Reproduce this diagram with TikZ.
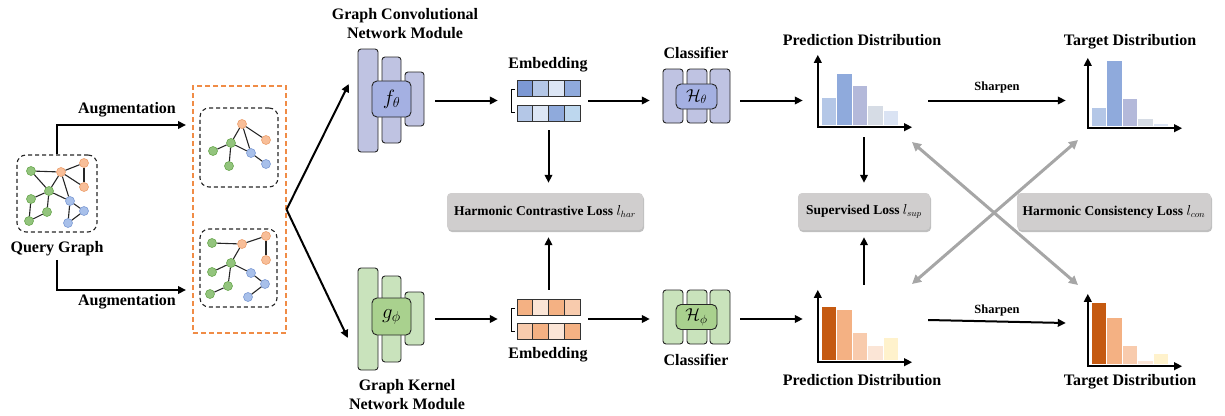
\documentclass[tikz,border=0pt]{standalone}
\usepackage{fontspec}
\setmainfont{Liberation Serif}
\usetikzlibrary{arrows.meta,shadows,positioning}

\definecolor{gfill}{RGB}{147,196,125}
\definecolor{gline}{RGB}{106,168,79}
\definecolor{ofill}{RGB}{248,190,152}
\definecolor{oline}{RGB}{236,160,110}
\definecolor{bfill}{RGB}{168,192,234}
\definecolor{bline}{RGB}{125,155,212}
\definecolor{augorange}{RGB}{240,140,70}
\definecolor{gcnlight}{RGB}{191,195,226}
\definecolor{gcncore}{RGB}{164,176,226}
\definecolor{gknlight}{RGB}{201,227,188}
\definecolor{gkncore}{RGB}{169,209,142}
\definecolor{lossgray}{RGB}{208,206,206}
\definecolor{xgray}{RGB}{166,166,166}
\definecolor{bl0}{HTML}{7C98D4}
\definecolor{bl1}{HTML}{B4C7E7}
\definecolor{bl2}{HTML}{8FAADC}
\definecolor{bl3}{HTML}{B4B9DA}
\definecolor{bl4}{HTML}{D6DCE5}
\definecolor{bl5}{HTML}{DAE3F3}
\definecolor{bl6}{HTML}{DCE6F5}
\definecolor{bl7}{HTML}{BDD7EE}
\definecolor{or1}{HTML}{C55A11}
\definecolor{or2}{HTML}{F4B183}
\definecolor{or3}{HTML}{F8CBAD}
\definecolor{or4}{HTML}{FBE5D6}
\definecolor{or5}{HTML}{FFF2CC}

\begin{document}
\begin{tikzpicture}[x=1pt,y=-1pt,
    every node/.style={font=\fontsize{16}{19}\selectfont\bfseries},
    arr/.style={line width=2pt,-{Triangle[length=8pt,width=7.5pt]}},
    chartaxis/.style={line width=2.4pt,{Triangle[length=8pt,width=7.5pt]}-{Triangle[length=8pt,width=7.5pt]}},
    xarr/.style={line width=3pt,xgray,{Triangle[length=9pt,width=9pt]}-{Triangle[length=9pt,width=9pt]}},
    gframe/.style={draw=black!85,line width=1.1pt,dash pattern=on 4pt off 3pt,rounded corners=9pt,inner sep=0pt},
    augframe/.style={draw=augorange,line width=1.1pt,dash pattern=on 5pt off 3pt,inner sep=0pt},
    gv/.style={circle,inner sep=0pt,minimum size=9pt,line width=0.6pt},
    gg/.style={gv,draw=gline,fill=gfill},
    go/.style={gv,draw=oline,fill=ofill},
    gb/.style={gv,draw=bline,fill=bfill},
    gedge/.style={line width=1.1pt,black!85},
    slab/.style={draw=black!85,line width=0.9pt,rounded corners=3pt},
    core/.style={draw=black!85,line width=0.9pt,rounded corners=5pt,inner sep=0pt},
    cell/.style={draw=black!80,line width=0.8pt},
    brk/.style={line width=1pt},
    hold/.style={inner sep=0pt},
    loss/.style={rounded corners=4pt,fill=lossgray,minimum height=37pt,inner sep=0pt,
      font=\fontsize{13.5}{16}\selectfont\bfseries,
      drop shadow={shadow xshift=1pt,shadow yshift=-2pt,fill=black,opacity=.25}},
    sharp/.style={font=\fontsize{12.5}{15}\selectfont\bfseries}]
  \useasboundingbox (0,0) rectangle (1225,415);

  % query graph
  \node[gframe,minimum width=80pt,minimum height=77pt] (qg) at (57,193.5) {};
  \node[gg] (q1) at (31,171) {};
  \node[gg] (q2) at (49,191) {};
  \node[gg] (q3) at (31,199) {};
  \node[gg] (q4) at (47,212) {};
  \node[gg] (q5) at (29,221) {};
  \node[go] (q6) at (61,172) {};
  \node[go] (q7) at (84,163) {};
  \node[go] (q8) at (84,187) {};
  \node[gb] (q9) at (70,201) {};
  \node[gb] (q10) at (84,211) {};
  \node[gb] (q11) at (68,223) {};
  \foreach \u/\v in {q1/q6,q1/q2,q6/q2,q6/q7,q7/q8,q6/q8,q6/q9,q2/q3,q3/q5,q5/q4,q4/q2,q2/q9,q9/q10,q10/q11,q9/q11}
    \draw[gedge] (\u) -- (\v);
  \node (qlab) at (57,249) {Query Graph};

  % augmentation
  \coordinate (augin1) at (186,125);
  \coordinate (augin2) at (186,290);
  \draw[arr] (qg.north) |- (augin1);
  \draw[arr] (qlab.south) |- (augin2);
  \node (auglab1) at (127,110) {Augmentation};
  \node (auglab2) at (127,302) {Augmentation};

  \node[augframe,minimum width=93pt,minimum height=247pt] (augbox) at (239.5,209.5) {};
  \node[gframe,minimum width=78pt,minimum height=79pt] (ag1) at (239,147.5) {};
  \node[go] (u1) at (242,124) {};
  \node[go] (u2) at (266,140) {};
  \node[gg] (u3) at (231,143) {};
  \node[gg] (u4) at (213,151) {};
  \node[gg] (u5) at (229,166) {};
  \node[gb] (u6) at (251,153) {};
  \node[gb] (u7) at (266,164) {};
  \foreach \u/\v in {u1/u3,u1/u2,u1/u6,u3/u4,u3/u5,u3/u6,u6/u7}
    \draw[gedge] (\u) -- (\v);

  \node[gframe,minimum width=77pt,minimum height=78pt] (ag2) at (238.5,268) {};
  \node[gg] (v1) at (212,243) {};
  \node[go] (v2) at (242,244) {};
  \node[go] (v3) at (266,236) {};
  \node[go] (v4) at (266,260) {};
  \node[gg] (v5) at (231,263) {};
  \node[gg] (v6) at (212,272) {};
  \node[gb] (v7) at (251,273) {};
  \node[gb] (v8) at (265,284) {};
  \node[gg] (v9) at (228,286) {};
  \node[gg] (v10) at (210,294) {};
  \node[gb] (v11) at (248,297) {};
  \foreach \u/\v in {v1/v2,v2/v3,v3/v4,v2/v5,v5/v6,v5/v7,v5/v9,v9/v10,v7/v8,v8/v11}
    \draw[gedge] (\u) -- (\v);

  % encoders
  \node[hold,minimum width=66pt,minimum height=103pt] (gcn) at (391,100.5) {};
  \draw[slab,fill=gcnlight] (358,49) rectangle (378,152);
  \draw[slab,fill=gcnlight] (382,57) rectangle (401,143);
  \draw[slab,fill=gcnlight] (405,72) rectangle (424,126);
  \node[core,fill=gcncore,minimum width=39pt,minimum height=36pt] (fmod) at (391.5,99) {\fontsize{20}{22}\selectfont$f_\theta$};
  \node[align=center] (gcnlab) at (405,23.5) {Graph Convolutional\\Network Module};

  \node[hold,minimum width=66pt,minimum height=102pt] (gkn) at (391,319) {};
  \draw[slab,fill=gknlight] (358,268) rectangle (378,370);
  \draw[slab,fill=gknlight] (382,276) rectangle (401,362);
  \draw[slab,fill=gknlight] (405,292) rectangle (424,345);
  \node[core,fill=gkncore,minimum width=39pt,minimum height=37pt] (gmod) at (391.5,316.5) {\fontsize{20}{22}\selectfont$g_\phi$};
  \node[align=center] (gknlab) at (407,395) {Graph Kernel\\Network Module};

  \draw[arr] (augbox.east) -- ([shift={(-9,-16.5)}]gcn.west);
  \draw[arr] (augbox.east) -- ([shift={(-10,19)}]gkn.west);

  % embeddings
  \node[hold,minimum width=63pt,minimum height=41pt] (embT) at (548.5,100.5) {};
  \foreach \c [count=\i from 0] in {bl0,bl1,bl6,bl2}
    \draw[cell,fill=\c] (517+\i*15.75,80) rectangle ++(15.75,16);
  \foreach \c [count=\i from 0] in {bl1,bl6,bl2,bl7}
    \draw[cell,fill=\c] (517+\i*15.75,105) rectangle ++(15.75,16);
  \draw[brk] (515,89) -- (511,89) -- (511,112) -- (515,112);
  \node (embTlab) at (548,65) {Embedding};

  \node[hold,minimum width=63pt,minimum height=40pt] (embB) at (548.5,319) {};
  \foreach \c [count=\i from 0] in {or2,or4,or2,or3}
    \draw[cell,fill=\c] (517+\i*15.75,299) rectangle ++(15.75,16);
  \foreach \c [count=\i from 0] in {or3,or2,or4,or2}
    \draw[cell,fill=\c] (517+\i*15.75,323) rectangle ++(15.75,16);
  \draw[brk] (515,308) -- (511,308) -- (511,331) -- (515,331);
  \node (embBlab) at (548,355) {Embedding};

  \draw[arr,shorten <=11pt,shorten >=19pt] (gcn.east) -- (embT.west);
  \draw[arr,shorten <=11pt,shorten >=19pt] (gkn.east) -- (embB.west);

  % classifiers
  \node[hold,minimum width=67pt,minimum height=54pt] (clsT) at (696.5,96) {};
  \foreach \x in {663,687,710}
    \draw[slab,fill=gcnlight] (\x,69) rectangle ++(20,54);
  \node[core,fill=gcncore,minimum width=41pt,minimum height=25pt] (hT) at (696.5,96.5) {\fontsize{18}{20}\selectfont$\mathcal{H}_\theta$};
  \node (clsTlab) at (696,53) {Classifier};

  \node[hold,minimum width=67pt,minimum height=54pt] (clsB) at (696.5,317) {};
  \foreach \x in {663,687,710}
    \draw[slab,fill=gknlight] (\x,290) rectangle ++(20,54);
  \node[core,fill=gkncore,minimum width=41pt,minimum height=25pt] (hB) at (696.5,317) {\fontsize{18}{20}\selectfont$\mathcal{H}_\phi$};
  \node (clsBlab) at (696,360) {Classifier};

  \draw[arr,shorten <=8pt,shorten >=13pt] (embT.east) -- (embT.east -| clsT.west);
  \draw[arr,shorten <=8pt,shorten >=13pt] (embB.east) -- (embB.east -| clsB.west);

  % distributions
  \node[hold,minimum width=94pt,minimum height=72pt] (predT) at (865,91) {};
  \foreach \h/\c [count=\i from 0] in {27/bl1,51/bl2,39/bl3,19/bl4,14/bl5}
    \fill[\c] ([shift={(4+\i*15.5,-2)}]predT.south west) rectangle ++(14.5,-\h);
  \draw[chartaxis] (predT.north west) |- (predT.south east);
  \node (predTlab) at (862,40) {Prediction Distribution};

  \node[hold,minimum width=94pt,minimum height=72pt] (predB) at (865,326) {};
  \foreach \h/\c [count=\i from 0] in {53/or1,50/or2,27/or3,14/or4,22/or5}
    \fill[\c] ([shift={(4+\i*15.5,-2)}]predB.south west) rectangle ++(14.5,-\h);
  \draw[chartaxis] (predB.north west) |- (predB.south east);
  \node (predBlab) at (862,380) {Prediction Distribution};

  \node[hold,minimum width=94pt,minimum height=70pt] (tgtT) at (1135,93) {};
  \foreach \h/\c [count=\i from 0] in {18/bl1,65/bl2,27/bl3,7/bl4,2.5/bl5}
    \fill[\c] ([shift={(4+\i*15.5,-2)}]tgtT.south west) rectangle ++(14.5,-\h);
  \draw[chartaxis] (tgtT.north west) |- (tgtT.south east);
  \node (tgtTlab) at (1130,42) {Target Distribution};

  \node[hold,minimum width=94pt,minimum height=72pt] (tgtB) at (1135,330) {};
  \foreach \h/\c [count=\i from 0] in {61/or1,46/or2,18/or3,3.3/or4,10.7/or5}
    \fill[\c] ([shift={(4+\i*15.5,-2)}]tgtB.south west) rectangle ++(14.5,-\h);
  \draw[chartaxis] (tgtB.north west) |- (tgtB.south east);
  \node (tgtBlab) at (1130,382) {Target Distribution};

  \draw[arr,shorten <=10pt,shorten >=15pt] (clsT.east |- embT.east) -- (predT.west |- embT.east);
  \draw[arr,shorten <=10pt,shorten >=15pt] (clsB.east |- embB.east) -- (predB.west |- embB.east);
  \draw[arr,shorten <=16pt,shorten >=22pt] (predT.east |- embT.east) -- (tgtT.west |- embT.east);
  \draw[arr] ([shift={(16,-6)}]predB.east) -- ([shift={(-22,-7)}]tgtB.west);
  \node[sharp] (shT) at (997,87) {Sharpen};
  \node[sharp] (shB) at (997,310) {Sharpen};

  % consistency cross
  \coordinate (xa) at (912,142);
  \coordinate (xb) at (1078,285);
  \coordinate (xc) at (912,284);
  \coordinate (xd) at (1078,140);
  \draw[xarr] (xa) -- (xb);
  \draw[xarr] (xc) -- (xd);

  % losses
  \node[loss,minimum width=196pt] (harl) at (545,211.5) {Harmonic Contrastive Loss $l_{har}$};
  \node[loss,minimum width=132pt] (supl) at (864,211.5) {Supervised Loss $l_{sup}$};
  \node[loss,minimum width=194pt] (conl) at (1114,211.5) {Harmonic Consistency Loss $l_{con}$};

  \draw[arr,shorten <=9pt,shorten >=10pt] (embT.south) -- (embT.south |- harl.north);
  \draw[arr,shorten <=9pt,shorten >=7pt] (embB.north) -- (embB.north |- harl.south);
  \draw[arr,shorten <=10pt,shorten >=10pt] (supl.north |- predT.south) -- (supl.north);
  \draw[arr,shorten <=5pt,shorten >=7pt] (supl.south |- predB.north) -- (supl.south);
\end{tikzpicture}
\end{document}
